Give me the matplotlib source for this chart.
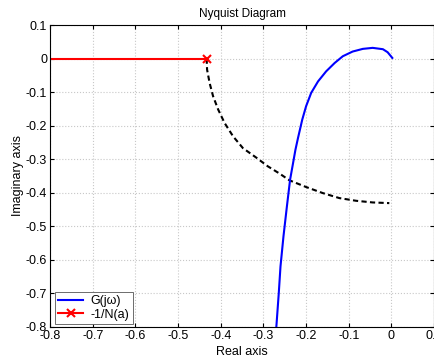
import matplotlib
matplotlib.use("Agg")
import matplotlib.pyplot as plt

plt.rcParams['font.family'] = ['Liberation Sans', 'DejaVu Sans']

# G(jw) points
g_re = [-0.270, -0.264, -0.260, -0.253, -0.245, -0.2375, -0.231, -0.225, -0.219,
        -0.209, -0.200, -0.188, -0.172, -0.153, -0.133, -0.114, -0.091, -0.067,
        -0.044, -0.020, -0.009, 0.002]
g_im = [-0.805, -0.699, -0.620, -0.530, -0.441, -0.361, -0.315, -0.272, -0.237,
        -0.182, -0.142, -0.102, -0.068, -0.038, -0.013, 0.007, 0.021, 0.029,
        0.032, 0.028, 0.019, 0.002]

# -1/N(a) along the negative real axis
n_re = [-0.80, -0.433]
n_im = [0.0, 0.0]

# dashed arc
d_re = [-0.433, -0.432, -0.426, -0.418, -0.406, -0.391, -0.371, -0.348, -0.316,
        -0.290, -0.262, -0.239, -0.200, -0.161, -0.122, -0.083, -0.044, -0.005]
d_im = [0.0, -0.033, -0.073, -0.112, -0.152, -0.192, -0.232, -0.267, -0.296,
        -0.321, -0.343, -0.363, -0.383, -0.401, -0.416, -0.424, -0.429, -0.431]

fig = plt.figure(figsize=(4.35, 3.58), dpi=100)
ax = fig.add_axes([0.115, 0.087, 0.883, 0.843])

ax.plot(d_re, d_im, color='black', linestyle=(0, (2.5, 1.6)), linewidth=1.5)
ax.plot(g_re, g_im, color='blue', linewidth=1.5, label='G(j\u03c9)')
ax.plot(n_re, n_im, color='red', linewidth=1.5, marker='x', markersize=6,
        markeredgewidth=1.5, markevery=[1], label='-1/N(a)')

ticks = [-0.8, -0.7, -0.6, -0.5, -0.4, -0.3, -0.2, -0.1, 0, 0.1]
tick_labels = ['-0.8', '-0.7', '-0.6', '-0.5', '-0.4', '-0.3', '-0.2', '-0.1', '0', '0.1']

ax.set_xlim(-0.8, 0.1)
ax.set_ylim(-0.8, 0.1)
ax.set_xticks(ticks)
ax.set_yticks(ticks)
ax.set_xticklabels(tick_labels)
ax.set_yticklabels(tick_labels)
ax.tick_params(direction='in', length=3, labelsize=9, top=True, right=True, pad=2)
ax.grid(True, color='#c8c8c8', linestyle=':', linewidth=0.8)

ax.set_title('Nyquist Diagram', fontsize=8.5, pad=6)
ax.set_xlabel('Real axis', fontsize=9, labelpad=3)
ax.set_ylabel('Imaginary axis', fontsize=9, labelpad=1)

leg = ax.legend(loc='lower left', bbox_to_anchor=(0.013, 0.01), borderaxespad=0,
                fontsize=9, fancybox=False, framealpha=1, edgecolor='#555555',
                handlelength=2.0, borderpad=0.25, labelspacing=0.1, handletextpad=0.6)
leg.get_frame().set_linewidth(0.6)

fig.savefig('out.png', dpi=100)
